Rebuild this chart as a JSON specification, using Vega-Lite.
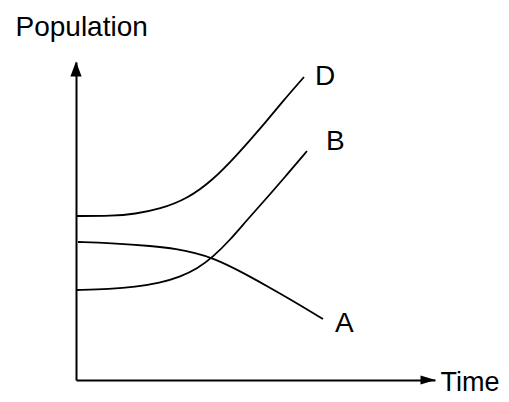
{
  "$schema": "https://vega.github.io/schema/vega-lite/v6.json",
  "width": 359,
  "height": 318,
  "autosize": "none",
  "padding": {"left": 76, "top": 62, "right": 74, "bottom": 22},
  "background": "white",
  "config": {
    "view": {"stroke": null},
    "font": "Liberation Sans",
    "axis": {"domainColor": "black", "domainWidth": 2, "ticks": false, "labels": false, "grid": false, "titleFont": "Liberation Sans", "titleFontWeight": "normal", "titleColor": "black"}
  },
  "datasets": {
    "curves": [
      {"curve": "D", "time": 0, "pop": 164}, {"curve": "D", "time": 36, "pop": 164}, {"curve": "D", "time": 59, "pop": 166}, {"curve": "D", "time": 84, "pop": 171}, {"curve": "D", "time": 111, "pop": 181}, {"curve": "D", "time": 137, "pop": 200}, {"curve": "D", "time": 161, "pop": 225}, {"curve": "D", "time": 184, "pop": 251}, {"curve": "D", "time": 207, "pop": 279}, {"curve": "D", "time": 228, "pop": 303},
      {"curve": "B", "time": 0, "pop": 90}, {"curve": "B", "time": 34, "pop": 91}, {"curve": "B", "time": 59, "pop": 93}, {"curve": "B", "time": 84, "pop": 97}, {"curve": "B", "time": 104, "pop": 103}, {"curve": "B", "time": 121, "pop": 111}, {"curve": "B", "time": 137, "pop": 123}, {"curve": "B", "time": 154, "pop": 140}, {"curve": "B", "time": 171, "pop": 160}, {"curve": "B", "time": 189, "pop": 180}, {"curve": "B", "time": 209, "pop": 203}, {"curve": "B", "time": 231, "pop": 229},
      {"curve": "A", "time": 2, "pop": 138}, {"curve": "A", "time": 34, "pop": 137}, {"curve": "A", "time": 77, "pop": 134}, {"curve": "A", "time": 101, "pop": 131}, {"curve": "A", "time": 119, "pop": 127}, {"curve": "A", "time": 137, "pop": 122}, {"curve": "A", "time": 164, "pop": 109}, {"curve": "A", "time": 191, "pop": 94}, {"curve": "A", "time": 219, "pop": 78}, {"curve": "A", "time": 247, "pop": 61}
    ],
    "labels": [
      {"label": "D", "time": 239, "pop": 295},
      {"label": "B", "time": 250, "pop": 230},
      {"label": "A", "time": 259, "pop": 48}
    ],
    "arrows": [
      {"dir": "up", "time": 0, "pop": 311},
      {"dir": "right", "time": 352, "pop": 0}
    ]
  },
  "layer": [
    {
      "data": {"name": "curves"},
      "mark": {"type": "line", "color": "black", "strokeWidth": 1.8, "interpolate": "basis"},
      "encoding": {
        "x": {"field": "time", "type": "quantitative", "scale": {"domain": [0, 359], "nice": false, "zero": false},
              "axis": {"title": "Time", "titleFontSize": 27, "titleAlign": "left", "titleBaseline": "alphabetic", "titleAnchor": null, "titleX": 364, "titleY": 10}},
        "y": {"field": "pop", "type": "quantitative", "scale": {"domain": [0, 318], "nice": false, "zero": false},
              "axis": {"title": "Population", "titleFontSize": 28, "titleAngle": 0, "titleAlign": "left", "titleBaseline": "alphabetic", "titleAnchor": null, "titleX": -61, "titleY": -27}},
        "detail": {"field": "curve", "type": "nominal"}
      }
    },
    {
      "data": {"name": "labels"},
      "mark": {"type": "text", "align": "left", "baseline": "alphabetic", "fontSize": 28, "color": "black", "font": "Liberation Sans"},
      "encoding": {
        "x": {"field": "time", "type": "quantitative"},
        "y": {"field": "pop", "type": "quantitative"},
        "text": {"field": "label", "type": "nominal"}
      }
    },
    {
      "data": {"name": "arrows"},
      "mark": {"type": "point", "filled": true, "color": "black", "opacity": 1, "size": 225},
      "encoding": {
        "x": {"field": "time", "type": "quantitative"},
        "y": {"field": "pop", "type": "quantitative"},
        "shape": {"field": "dir", "type": "nominal", "legend": null,
                  "scale": {"domain": ["up", "right"], "range": ["M0,-1L-0.75,1L0.75,1Z", "M1,0L-1,-0.6L-1,0.6Z"]}}
      }
    }
  ]
}
